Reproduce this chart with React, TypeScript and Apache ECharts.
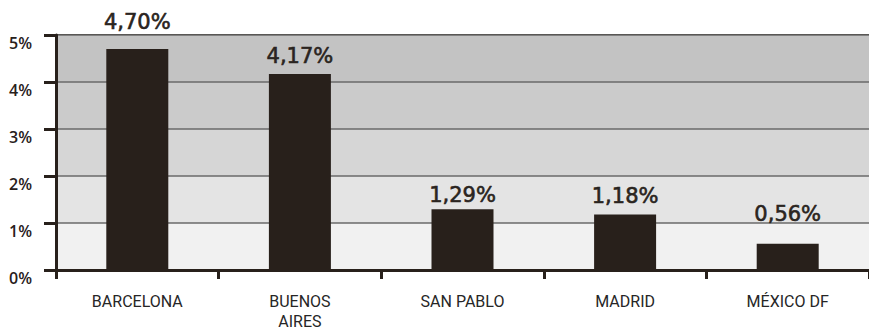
import React, { useEffect, useRef } from "react";
import * as echarts from "echarts";

// Cities and their rates (%)
const cities = ["BARCELONA", "BUENOS\nAIRES", "SAN PABLO", "MADRID", "MÉXICO DF"];
const rates = [4.7, 4.17, 1.29, 1.18, 0.56];
// Gap between each value label and the top of its bar
const labelGaps = [17, 8, 4, 8, 19];
// Y axis ticks
const yMin = 0;
const yMax = 5;
const yStep = 1;

// Background band colours, from the lowest band upwards
const bandColors = ["#f1f1f1", "#e4e4e4", "#d6d6d6", "#cbcbcb", "#c3c3c3"];

const ink = "#28201b";

const fmtPct = (v: number) => v.toFixed(2).replace(".", ",") + "%";

export default function App() {
  const ref = useRef<HTMLDivElement>(null);

  useEffect(() => {
    if (!ref.current) return;
    const chart = echarts.init(ref.current, null, { renderer: "svg" });
    chart.setOption({
      animation: false,
      backgroundColor: "#ffffff",
      grid: {
        left: 56,
        right: -9.5,
        top: 35,
        bottom: 58,
        show: true,
        borderColor: ink,
        borderWidth: 2,
        backgroundColor: "transparent",
      },
      xAxis: {
        type: "category",
        data: cities,
        axisLine: { show: true, lineStyle: { color: ink, width: 3 } },
        axisTick: {
          show: true,
          interval: 0,
          length: 9,
          lineStyle: { color: ink, width: 3 },
        },
        axisLabel: {
          interval: 0,
          margin: 21,
          color: "#262626",
          fontFamily: "Roboto",
          fontSize: 16,
          lineHeight: 20,
          align: "center",
        },
      },
      yAxis: {
        type: "value",
        min: yMin,
        max: yMax,
        interval: yStep,
        axisLine: { show: true, lineStyle: { color: ink, width: 3 } },
        axisTick: {
          show: true,
          length: 12,
          lineStyle: { color: ink, width: 3 },
        },
        axisLabel: {
          margin: 24,
          color: ink,
          fontFamily: "Open Sans",
          fontWeight: 600,
          fontSize: 16,
          verticalAlign: "top",
          lineHeight: 16,
          formatter: (v: number) => `${v}%`,
        },
        splitLine: { show: true, lineStyle: { color: "#6a6a6a", width: 1.5 } },
        splitArea: { show: true, areaStyle: { color: bandColors } },
      },
      series: [
        {
          type: "bar",
          barWidth: 62,
          itemStyle: { color: ink },
          data: rates.map((v, i) => ({
            value: v,
            label: { distance: labelGaps[i] },
          })),
          label: {
            show: true,
            position: "top",
            color: "#2a2420",
            textBorderColor: "#2a2420",
            textBorderWidth: 0.6,
            fontFamily: "DejaVu Sans",
            fontSize: 21,
            formatter: (p: any) => fmtPct(p.value),
          },
        },
      ],
    });
    return () => chart.dispose();
  }, []);

  return (
    <div
      ref={ref}
      style={{ position: "fixed", left: 0, top: 0, width: 869, height: 331 }}
    />
  );
}
